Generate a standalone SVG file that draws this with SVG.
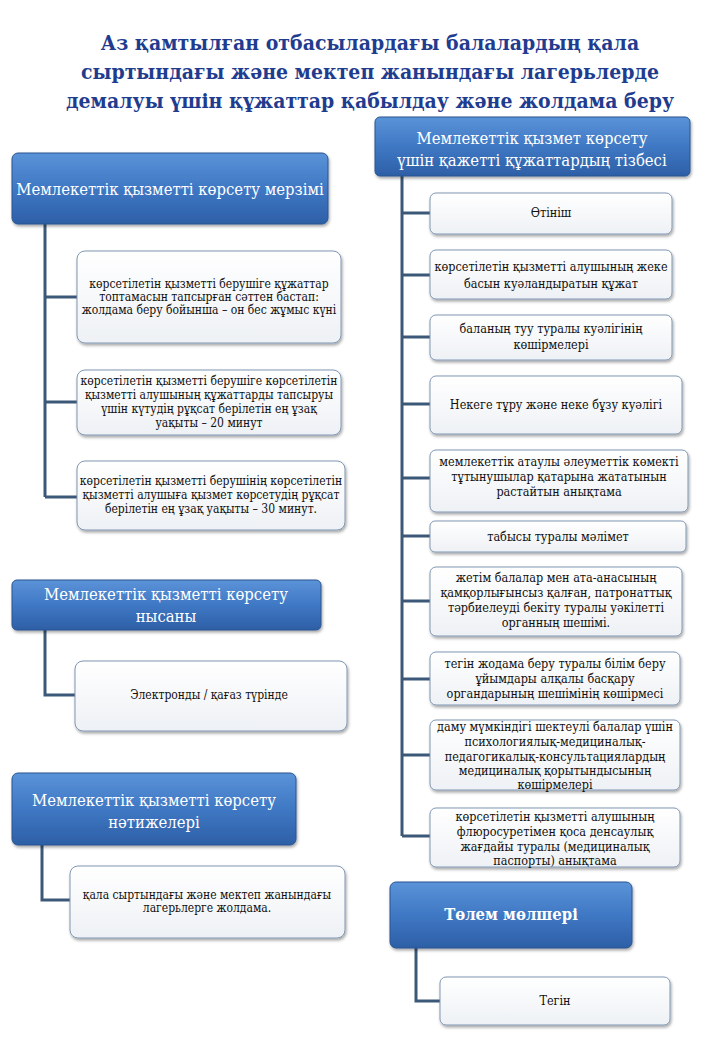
<svg xmlns="http://www.w3.org/2000/svg" width="720" height="1040" viewBox="0 0 720 1040">
<defs>
<linearGradient id="hg" x1="0" y1="0" x2="0" y2="1">
<stop offset="0" stop-color="#5b93d8"/>
<stop offset="0.5" stop-color="#3f78c4"/>
<stop offset="1" stop-color="#2d5fa6"/>
</linearGradient>
<linearGradient id="bg" x1="0" y1="0" x2="0" y2="1">
<stop offset="0" stop-color="#ffffff"/>
<stop offset="1" stop-color="#eef1f5"/>
</linearGradient>
<filter id="sh" x="-10%" y="-10%" width="125%" height="135%">
<feDropShadow dx="1" dy="2" stdDeviation="1.5" flood-color="#000" flood-opacity="0.35"/>
</filter>
</defs>
<style>
.title{font-family:"DejaVu Serif Condensed","DejaVu Serif",serif;font-weight:bold;font-size:21px;fill:#1f3c8f;text-anchor:middle}
.hd{fill:url(#hg);stroke:#2a5590;stroke-width:1;filter:url(#sh)}
.ht{font-family:"DejaVu Serif Condensed","DejaVu Serif",serif;font-size:16.5px;fill:#ffffff;text-anchor:middle}
.bx{fill:url(#bg);stroke:#8197b3;stroke-width:1;filter:url(#sh)}
.bt{font-family:"DejaVu Serif Condensed","DejaVu Serif",serif;font-size:12px;fill:#111;text-anchor:middle}
.br{font-size:12.5px}
.ln{fill:none;stroke:#3c5878;stroke-width:3}
</style>
<rect width="720" height="1040" fill="#ffffff"/>
<g id="title">
<text class="title" x="370" y="50">Аз қамтылған отбасылардағы балалардың қала</text>
<text class="title" x="370" y="79">сыртындағы және мектеп жанындағы лагерьлерде</text>
<text class="title" x="370" y="108">демалуы үшін құжаттар қабылдау және жолдама беру</text>
</g>
<g id="connectors">
<path class="ln" d="M45 224 V497 M45 297 H77 M45 402 H77 M45 497 H77"/>
<path class="ln" d="M45 630 V695 H75"/>
<path class="ln" d="M42 845 V900 H70"/>
<path class="ln" d="M402 176 V836 M402 213 H430 M402 275 H430 M402 337 H430 M402 404 H430 M402 478 H430 M402 536 H430 M402 601 H430 M402 679 H430 M402 755 H430 M402 836 H430"/>
<path class="ln" d="M416 948 V1001 H440"/>
</g>
<g id="h-merzimi">
<rect class="hd" x="12" y="153" width="316" height="71" rx="6"/>
<text class="ht" x="170" y="195">Мемлекеттік қызметті көрсету мерзімі</text>
</g>
<g id="m1">
<rect class="bx" x="77" y="251" width="264" height="92" rx="8"/>
<text class="bt" x="209" y="288">көрсетілетін қызметті  берушіге құжаттар</text>
<text class="bt" x="209" y="301">топтамасын тапсырған сәттен бастап:</text>
<text class="bt" x="209" y="314">жолдама беру бойынша – он бес жұмыс күні</text>
</g>
<g id="m2">
<rect class="bx" x="77" y="370" width="264" height="65" rx="8"/>
<text class="bt" x="209" y="385">көрсетілетін қызметті  берушіге көрсетілетін</text>
<text class="bt" x="209" y="399">қызметті алушының құжаттарды тапсыруы</text>
<text class="bt" x="209" y="413">үшін күтудің рұқсат берілетін ең ұзақ</text>
<text class="bt" x="209" y="427">уақыты – 20 минут</text>
</g>
<g id="m3">
<rect class="bx" x="77" y="461" width="268" height="69" rx="8"/>
<text class="bt" x="211" y="485">көрсетілетін қызметті  берушінің көрсетілетін</text>
<text class="bt" x="211" y="499">қызметті алушыға қызмет көрсетудің рұқсат</text>
<text class="bt" x="211" y="513">берілетін ең ұзақ уақыты – 30 минут.</text>
</g>
<g id="h-nysany">
<rect class="hd" x="12" y="580" width="309" height="50" rx="5"/>
<text class="ht" x="166" y="600" font-size="17.5">Мемлекеттік қызметті көрсету</text>
<text class="ht" x="166" y="622" font-size="17.5">нысаны</text>
</g>
<g id="n1">
<rect class="bx" x="75" y="661" width="272" height="70" rx="8"/>
<text class="bt" x="209" y="699">Электронды / қағаз түрінде</text>
</g>
<g id="h-natizheleri">
<rect class="hd" x="12" y="773" width="284" height="72" rx="6"/>
<text class="ht" x="154" y="806">Мемлекеттік қызметті көрсету</text>
<text class="ht" x="154" y="828">нәтижелері</text>
</g>
<g id="r1">
<rect class="bx" x="70" y="866" width="275" height="72" rx="8"/>
<text class="bt" x="207" y="899">қала сыртындағы  және  мектеп  жанындағы</text>
<text class="bt" x="207" y="912">лагерьлерге жолдама.</text>
</g>
<g id="h-tizbesi">
<rect class="hd" x="375" y="117" width="315" height="59" rx="5"/>
<text class="ht" x="532" y="144" font-size="18">Мемлекеттік қызмет көрсету</text>
<text class="ht" x="532" y="166" font-size="18">үшін қажетті құжаттардың тізбесі</text>
</g>
<g id="d1">
<rect class="bx" x="430" y="193" width="242" height="41" rx="6"/>
<text class="bt br" x="551" y="217">Өтініш</text>
</g>
<g id="d2">
<rect class="bx" x="430" y="250" width="242" height="49" rx="6"/>
<text class="bt br" x="551" y="271">көрсетілетін қызметті алушының жеке</text>
<text class="bt br" x="551" y="288">басын куәландыратын құжат</text>
</g>
<g id="d3">
<rect class="bx" x="430" y="315" width="242" height="45" rx="6"/>
<text class="bt br" x="551" y="333">баланың туу туралы куәлігінің</text>
<text class="bt br" x="551" y="349">көшірмелері</text>
</g>
<g id="d4">
<rect class="bx" x="430" y="376" width="252" height="58" rx="6"/>
<text class="bt br" x="556" y="409">Некеге тұру және неке бұзу куәлігі</text>
</g>
<g id="d5">
<rect class="bx" x="430" y="450" width="258" height="62" rx="6"/>
<text class="bt br" x="559" y="466">мемлекеттік атаулы әлеуметтік көмекті</text>
<text class="bt br" x="559" y="481">тұтынушылар қатарына жататынын</text>
<text class="bt br" x="559" y="496">растайтын анықтама</text>
</g>
<g id="d6">
<rect class="bx" x="430" y="521" width="256" height="31" rx="5"/>
<text class="bt br" x="558" y="541">табысы туралы мәлімет</text>
</g>
<g id="d7">
<rect class="bx" x="430" y="567" width="252" height="69" rx="6"/>
<text class="bt br" x="556" y="582">жетім балалар мен ата-анасының</text>
<text class="bt br" x="556" y="597">қамқорлығынсыз қалған, патронаттық</text>
<text class="bt br" x="556" y="612">тәрбиелеуді бекіту туралы уәкілетті</text>
<text class="bt br" x="556" y="627">органның шешімі.</text>
</g>
<g id="d8">
<rect class="bx" x="430" y="652" width="250" height="53" rx="6"/>
<text class="bt br" x="555" y="668">тегін жодама беру туралы білім беру</text>
<text class="bt br" x="555" y="683">ұйымдары алқалы басқару</text>
<text class="bt br" x="555" y="698">органдарының шешімінің көшірмесі</text>
</g>
<g id="d9">
<rect class="bx" x="430" y="720" width="250" height="70" rx="6"/>
<text class="bt br" x="555" y="731">даму мүмкіндігі шектеулі балалар үшін</text>
<text class="bt br" x="555" y="746">психологиялық-медициналық-</text>
<text class="bt br" x="555" y="761">педагогикалық-консультациялардың</text>
<text class="bt br" x="555" y="775">медициналық қорытындысының</text>
<text class="bt br" x="555" y="789">көшірмелері</text>
</g>
<g id="d10">
<rect class="bx" x="430" y="808" width="250" height="59" rx="6"/>
<text class="bt br" x="555" y="821">көрсетілетін қызметті алушының</text>
<text class="bt br" x="555" y="836">флюросуретімен қоса денсаулық</text>
<text class="bt br" x="555" y="851">жағдайы туралы (медициналық</text>
<text class="bt br" x="555" y="865">паспорты) анықтама</text>
</g>
<g id="h-tolem">
<rect class="hd" x="390" y="882" width="242" height="66" rx="6"/>
<text class="ht" x="511" y="920" font-weight="bold">Төлем мөлшері</text>
</g>
<g id="t1">
<rect class="bx" x="440" y="977" width="230" height="48" rx="6"/>
<text class="bt br" x="555" y="1005">Тегін</text>
</g>
</svg>
